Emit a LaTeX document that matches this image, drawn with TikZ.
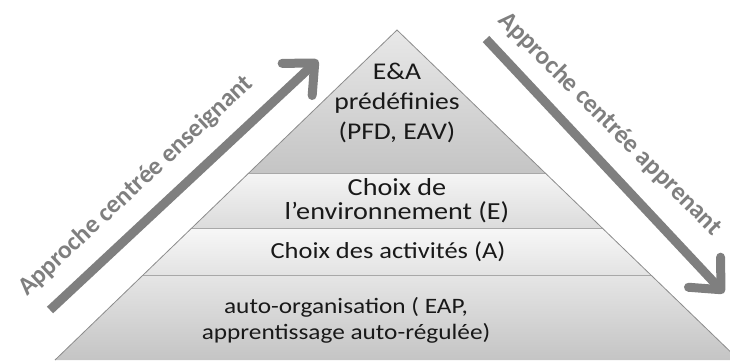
\documentclass[tikz,border=0pt]{standalone}
\usepackage{fontspec}
\setmainfont{Carlito}
\usetikzlibrary{arrows.meta}

\definecolor{arrowgray}{HTML}{7F7F7F}
\definecolor{edgegray}{HTML}{8C8C8C}
\definecolor{sepgray}{HTML}{A8A8A8}

\tikzset{
    lvl/.style={align=center, text=black!90, xscale=1.15, transform shape},
    approach/.style={font=\fontsize{25.5}{30}\selectfont\bfseries, text=arrowgray},
    flow/.style={draw=arrowgray, line width=9pt,
        -{Straight Barb[round, length=24pt, width=44pt]}},
    sep/.style={draw=sepgray, line width=1pt}
}

\begin{document}
\begin{tikzpicture}[x=1pt, y=-1pt]
    \useasboundingbox (0,0) rectangle (730,360);
    \clip (0,0) rectangle (730,360);

    \coordinate (apex) at (397,30);
    \coordinate (bl) at (55,360);
    \coordinate (br) at (739,360);

    \begin{scope}
        \clip (apex) -- (bl) -- (br) -- cycle;
        \shade[top color=black!9, bottom color=black!23] (0,30) rectangle (730,173);
        \shade[top color=black!4, bottom color=black!14] (0,173) rectangle (730,228);
        \shade[top color=black!3, bottom color=black!11] (0,228) rectangle (730,275);
        \shade[top color=black!10, bottom color=black!23] (0,275) rectangle (730,360);
        \draw[sep] (0,173) -- (730,173);
        \draw[sep] (0,228) -- (730,228);
        \draw[sep] (0,275) -- (730,275);
    \end{scope}
    \draw[edgegray, line width=0.8pt] (bl) -- (apex) -- (br);

    \node[lvl, font=\fontsize{24}{30}\selectfont] (pfd) at (397,103)
        {E\&A\\prédéfinies\\(PFD, EAV)};
    \node[lvl, font=\fontsize{24.5}{24}\selectfont] (env) at (397,201)
        {Choix de\\l’environnement (E)};
    \node[lvl, font=\fontsize{23}{24}\selectfont] (act) at (388,252)
        {Choix des activités (A)};
    \node[lvl, font=\fontsize{22}{26}\selectfont] (auto) at (346,320)
        {auto-organisation ( EAP,\\apprentissage auto-régulée)};

    \coordinate (tchtail) at (50,310);
    \coordinate (tchhead) at (318,60);
    \coordinate (lrntail) at (486,39);
    \coordinate (lrnhead) at (724,293);
    \draw[flow] (tchtail) -- (tchhead);
    \draw[flow] (lrntail) -- (lrnhead);

    \node[approach, rotate=43] (teacher) at (136,186) {Approche centrée enseignant};
    \node[approach, rotate=-45] (learner) at (610,124) {Approche centrée apprenant};
\end{tikzpicture}
\end{document}
